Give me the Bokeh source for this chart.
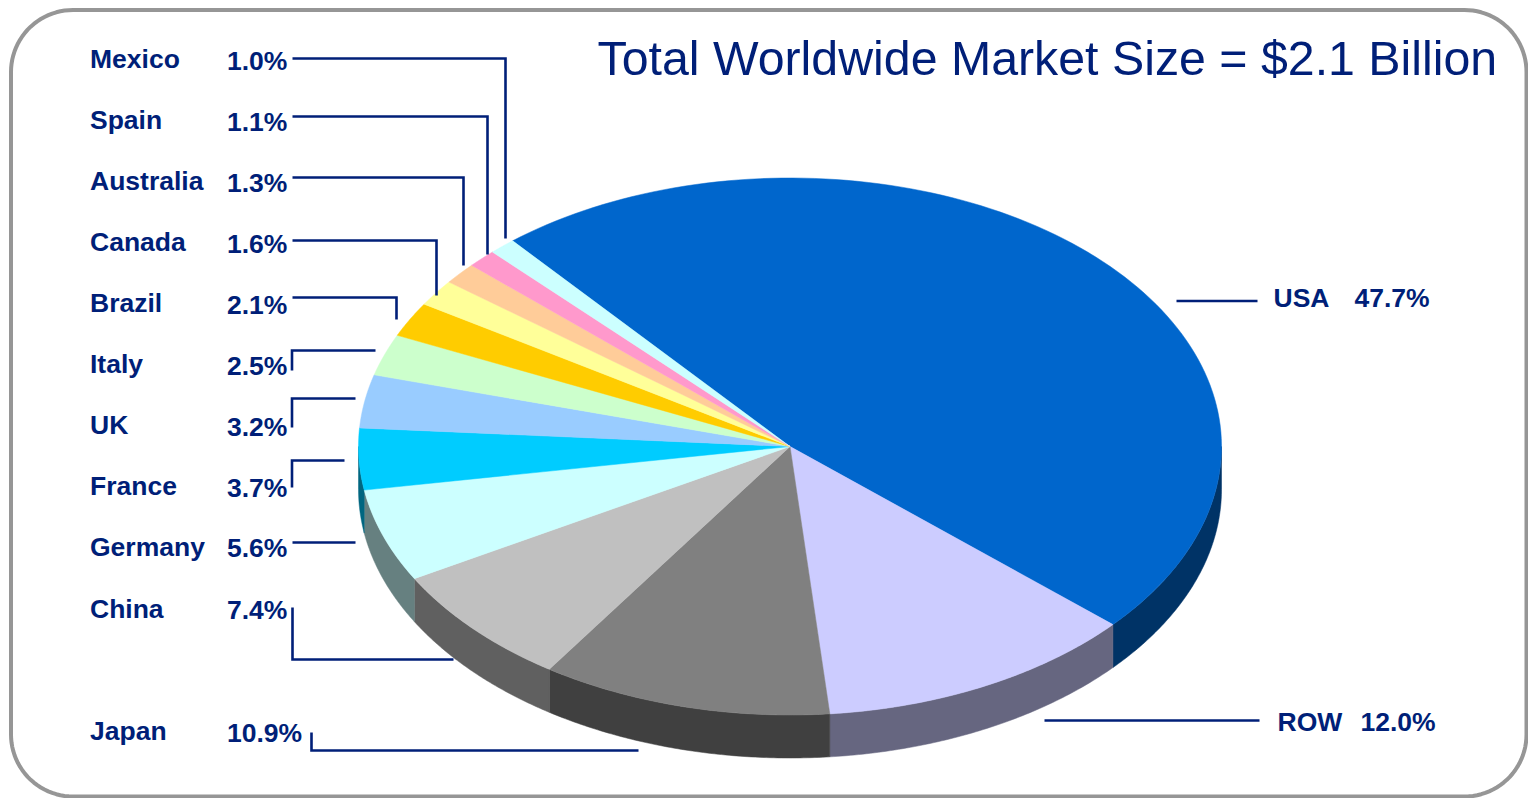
import numpy as np
from bokeh.plotting import figure
from bokeh.embed import file_html
from bokeh.resources import INLINE
from bokeh.core.properties import value

# --- data ---
countries = ["USA", "ROW", "Japan", "China", "Germany", "France", "UK", "Italy",
             "Brazil", "Canada", "Australia", "Spain", "Mexico"]
shares = [47.7, 12.0, 10.9, 7.4, 5.6, 3.7, 3.2, 2.5, 2.1, 1.6, 1.3, 1.1, 1.0]
top_colors = ["#0066CC", "#CCCCFF", "#808080", "#C0C0C0", "#CCFFFF", "#00CCFF", "#99CCFF",
              "#CCFFCC", "#FFCC00", "#FFFF99", "#FFCC99", "#FF99CC", "#CCFFFF"]
side_colors = ["#003366", "#666680", "#404040", "#606060", "#668080", "#006680", "#4D6680",
               "#668066", "#806600", "#808040", "#806640", "#804D66", "#668080"]
title_text = "Total Worldwide Market Size = $2.1 Billion"

NAVY = "#001F78"
FONT = "Liberation Sans"
W, H = 1528, 798
CX, CY, RX, RY, DEPTH = 789.5, 446, 431.5, 268.5, 43
START = 130.0

p = figure(width=W, height=H, x_range=(0, W), y_range=(H, 0),
           output_backend="svg", toolbar_location=None, min_border=0,
           outline_line_color=None, background_fill_color="white")
p.axis.visible = False
p.grid.visible = False

# rounded frame
L, T, R_, B, RAD = 10.5, 9.5, 1526, 796, 62
a = np.radians(np.linspace(0, 90, 24))
fx = np.concatenate([L + RAD - RAD * np.cos(a), R_ - RAD + RAD * np.sin(a),
                     R_ - RAD + RAD * np.cos(a), L + RAD - RAD * np.sin(a), [L]])
fy = np.concatenate([T + RAD - RAD * np.sin(a), T + RAD - RAD * np.cos(a),
                     B - RAD + RAD * np.sin(a), B - RAD + RAD * np.cos(a), [T + RAD]])
p.line(fx, fy, line_color="#969696", line_width=4)

# slices
angles = START - np.cumsum([0] + shares) / sum(shares) * 360.0


def ex(t):
    return CX + RX * np.cos(np.radians(t))


def ey(t):
    return CY - RY * np.sin(np.radians(t))


# side walls: the part of each slice on the near half of the ellipse
for i in range(len(shares)):
    t0, t1 = angles[i], angles[i + 1]
    hi, lo = min(t0, 0.0), max(t1, -180.0)
    if hi <= lo:
        continue
    ts = np.linspace(hi, lo, 80)
    xs = ex(ts)
    ys = ey(ts)
    p.patch(np.concatenate([xs, xs[::-1]]), np.concatenate([ys, ys[::-1] + DEPTH]),
            fill_color=side_colors[i], line_color=side_colors[i], line_width=0.5)

# top faces
for i in range(len(shares)):
    ts = np.linspace(angles[i], angles[i + 1], 120)
    p.patch(np.concatenate([[CX], ex(ts)]), np.concatenate([[CY], ey(ts)]),
            fill_color=top_colors[i], line_color=top_colors[i], line_width=0.5)

# leader lines (page layout)
leaders = [
    ([292, 505, 505], [58, 58, 238]),
    ([292, 487, 487], [116, 116, 254]),
    ([292, 463, 463], [177, 177, 265]),
    ([292, 436, 436], [240, 240, 295]),
    ([292, 396, 396], [297, 297, 319]),
    ([291.5, 291.5, 375], [370, 350, 350]),
    ([291.5, 291.5, 355], [427, 398, 398]),
    ([291.5, 291.5, 344], [487, 460, 460]),
    ([292, 355], [542, 542]),
    ([292, 292, 453], [607, 659, 659]),
    ([311, 311, 638], [732, 750, 750]),
    ([1176, 1257], [300.5, 300.5]),
    ([1044, 1259], [720, 720]),
]
for lx, ly in leaders:
    p.line(lx, ly, line_color=NAVY, line_width=2.6, line_join="miter")

# left labels
rows = {"Mexico": (58, 60), "Spain": (119, 121), "Australia": (180, 182), "Canada": (241, 243),
        "Brazil": (302, 304), "Italy": (363, 365), "UK": (424, 426), "France": (485, 487),
        "Germany": (546, 547), "China": (608, 609), "Japan": (730, 732)}
lookup = dict(zip(countries, shares))
size = "26.5px"
for name, (y1, y2) in rows.items():
    p.text([89.5], [y1], text=[name], text_font=value(FONT), text_font_style="bold",
           text_font_size=size, text_color=NAVY, text_baseline="middle")
    p.text([226.5], [y2], text=[f"{lookup[name]:.1f}%"], text_font=value(FONT), text_font_style="bold",
           text_font_size=size, text_color=NAVY, text_baseline="middle")

# right labels
for name, nx, vx, yy in [("USA", 1273, 1354, 297), ("ROW", 1277, 1360, 721)]:
    p.text([nx], [yy], text=[name], text_font=value(FONT), text_font_style="bold",
           text_font_size=size, text_color=NAVY, text_baseline="middle")
    p.text([vx], [yy], text=[f"{lookup[name]:.1f}%"], text_font=value(FONT), text_font_style="bold",
           text_font_size=size, text_color=NAVY, text_baseline="middle")

p.text([597], [57], text=[title_text], text_font=value(FONT), text_font_size="48.3px",
       text_color=NAVY, text_baseline="middle")

open("out.html", "w").write(file_html(p, INLINE))
